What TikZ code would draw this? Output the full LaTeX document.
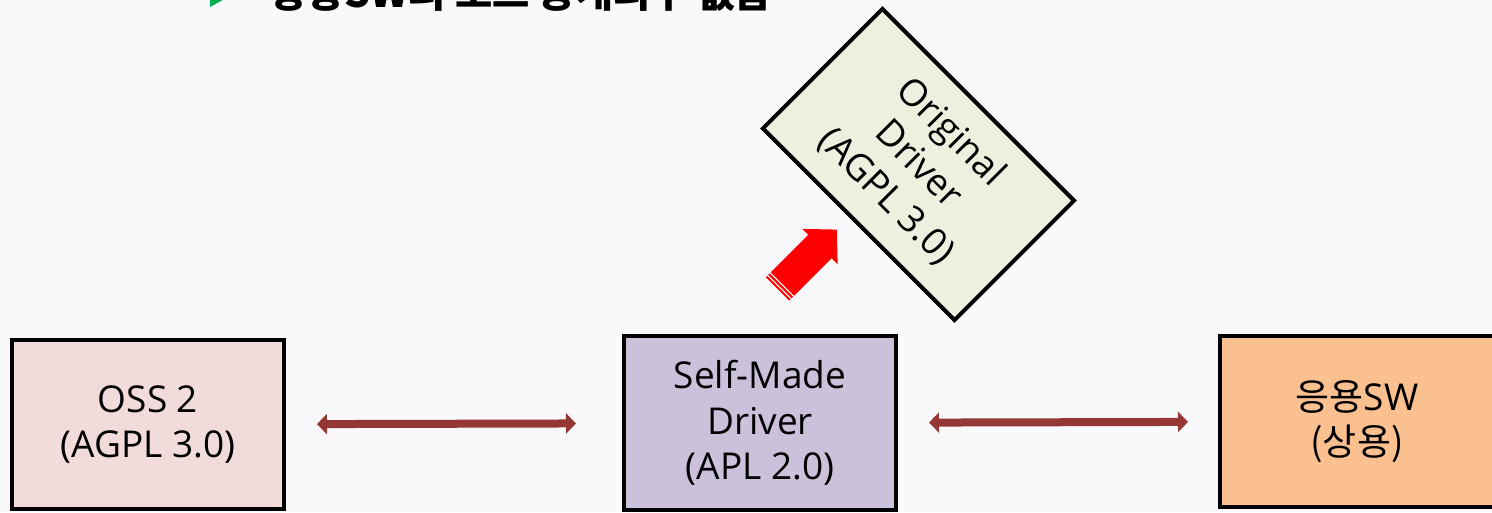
\documentclass[tikz,border=0pt]{standalone}
\usepackage{fontspec}
\setmainfont{Open Sans}
\newfontfamily\kr{Noto Sans CJK KR}
\usetikzlibrary{arrows.meta}
\definecolor{bg}{HTML}{F9F8FA}
\definecolor{ossfill}{HTML}{F2DCDB}
\definecolor{selffill}{HTML}{CCC1DA}
\definecolor{appfill}{HTML}{FAC090}
\definecolor{origfill}{HTML}{EBF1DE}
\definecolor{linkred}{HTML}{953735}
\definecolor{bulletgreen}{HTML}{00B050}
\definecolor{blockred}{HTML}{FF0000}
\begin{document}
\begin{tikzpicture}[x=1pt,y=-1pt,
  box/.style={draw=black, line width=4pt, minimum width=272pt, minimum height=170pt,
    align=center, inner sep=0pt, font=\fontsize{37}{45.5}\selectfont},
  link/.style={line width=8pt, draw=linkred,
    {Triangle[width=20pt,length=10pt]}-{Triangle[width=20pt,length=10pt]}},
  title/.style={font=\fontsize{40.5}{44}\selectfont\kr\bfseries, inner sep=0pt}]
\useasboundingbox (0,0) rectangle (1492,512);
\clip (0,0) rectangle (1492,512);
\fill[bg] (0,0) rectangle (1492,512);

% partially visible title
\fill[bulletgreen] (210,-17) -- (232,-5) -- (210,7) -- cycle;
\node[title, anchor=base west] (ttl) at (270,7) {응용SW의 소스 공개의무 없음};

% boxes
\node[box, fill=ossfill, minimum height=169pt] (oss) at (148,424.5) {OSS 2\\(AGPL 3.0)};
\node[box, fill=selffill, minimum height=174pt] (self) at (760,423) {Self-Made\\Driver\\(APL 2.0)};
\node[box, fill=appfill, minimum width=274pt, minimum height=171pt] (app) at (1357,421.5) {{\kr 응용}SW\\{\kr (상용)}};
\node[box, fill=origfill, minimum width=271pt, minimum height=169pt, rotate=-45] (orig) at (918.5,164.5) {Original\\Driver\\(AGPL 3.0)};

% connectors
\draw[link, shorten <=31pt, shorten >=46pt] (oss) -- (self);
\draw[link, shorten <=31pt, shorten >=30pt] (self) -- (app);

% striped block arrow
\begin{scope}[shift={(777.5,289)}, rotate=45]
  \fill[blockred] (0,-16.5) rectangle (2,16.5);
  \fill[blockred] (3.5,-16.5) rectangle (5.5,16.5);
  \fill[blockred] (7,-16.5) -- (60,-16.5) -- (60,-25) -- (84,0) -- (60,25) -- (60,16.5) -- (7,16.5) -- cycle;
\end{scope}
\end{tikzpicture}
\end{document}
